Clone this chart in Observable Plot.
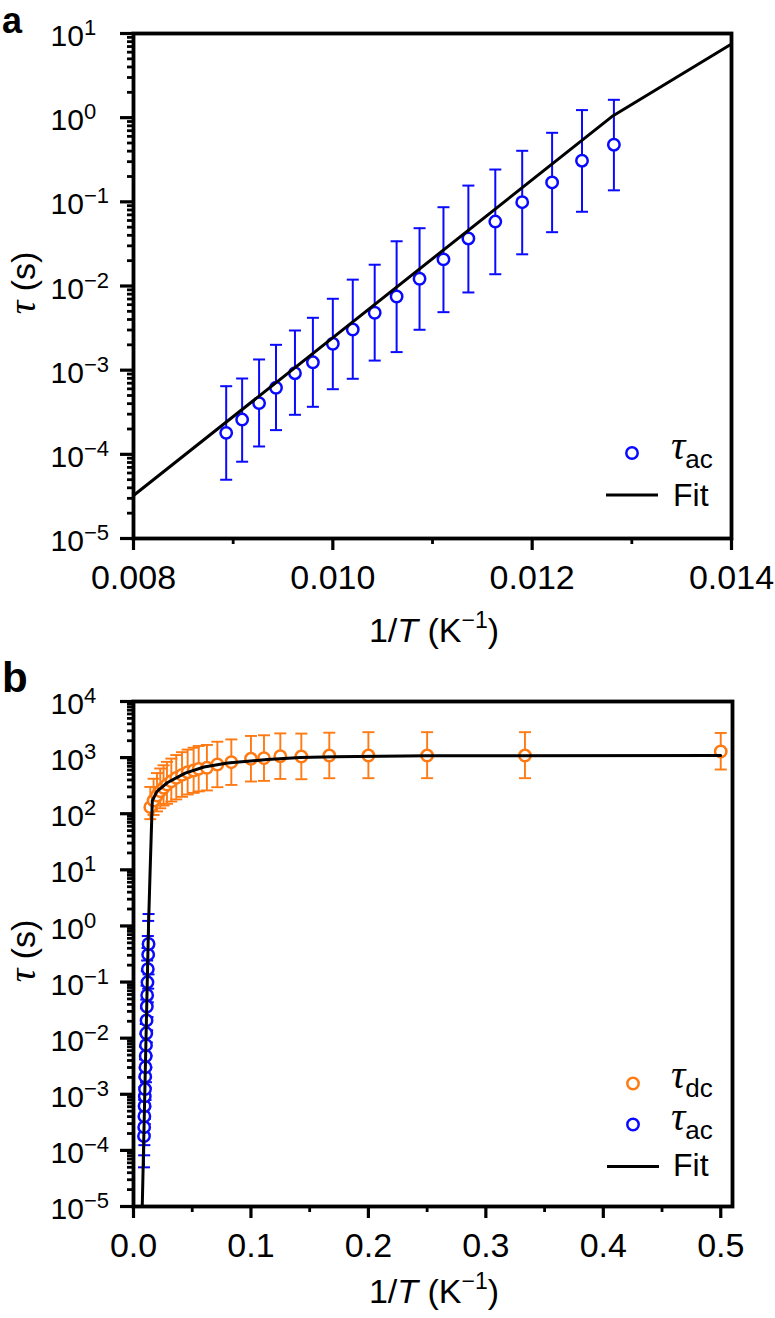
<!DOCTYPE html>
<html><head><meta charset="utf-8">
<script src="https://cdn.jsdelivr.net/npm/d3@7"></script>
<script src="https://cdn.jsdelivr.net/npm/@observablehq/plot@0.6"></script>
<style>
body{margin:0;background:#fff;}
#wrap{position:relative;width:775px;height:1318px;font-family:"Liberation Sans",Arial,sans-serif;}
#pa,#pb{position:absolute;left:0;}
#pa{top:0px}
#pb{top:655px}
#ov{position:absolute;left:0;top:0;pointer-events:none}
</style></head>
<body><div id="wrap"><div id="pa"></div><div id="pb"></div></div>
<script>
// ---- tau_ac (AC susceptibility) data: 1/T, tau, upper and lower error limits
const acX  = [0.00893, 0.00909, 0.00926, 0.00943, 0.00962, 0.00980, 0.01000, 0.01020, 0.01042, 0.01064, 0.01087, 0.01111, 0.01136, 0.01163, 0.01190, 0.01220, 0.01250, 0.01282];
const acY  = [1.80e-4, 2.59e-4, 4.06e-4, 6.18e-4, 9.2e-4, 1.24e-3, 2.06e-3, 3.04e-3, 4.81e-3, 7.5e-3, 1.22e-2, 2.07e-2, 3.67e-2, 5.83e-2, 9.9e-2, 0.170, 0.308, 0.477];
const acHi = [6.45e-4, 7.96e-4, 1.34e-3, 2.00e-3, 2.96e-3, 4.19e-3, 7.05e-3, 1.19e-2, 1.79e-2, 3.40e-2, 4.86e-2, 8.63e-2, 0.156, 0.242, 0.404, 0.661, 1.23, 1.63];
const acLo = [4.99e-5, 8.17e-5, 1.24e-4, 1.94e-4, 2.95e-4, 3.67e-4, 5.94e-4, 7.9e-4, 1.30e-3, 1.64e-3, 3.02e-3, 4.89e-3, 8.38e-3, 1.38e-2, 2.38e-2, 4.36e-2, 7.62e-2, 0.137];

// ---- tau_dc (DC relaxation) data
const dcX  = [0.0143, 0.0171, 0.0200, 0.0228, 0.0256, 0.0285, 0.0322, 0.0364, 0.0413, 0.0461, 0.0512, 0.0555, 0.0625, 0.0714, 0.0833, 0.1000, 0.1111, 0.1250, 0.1429, 0.1667, 0.2000, 0.2500, 0.3333, 0.5000];
const dcY  = [131, 172, 211, 252, 289, 331, 379, 436, 493, 549, 589, 631, 658, 754, 828, 953, 977, 1059, 1047, 1089, 1089, 1089, 1089, 1285];
const dcHi = [300, 420, 530, 640, 730, 840, 960, 1110, 1250, 1390, 1500, 1610, 1680, 1920, 2110, 2430, 2500, 2700, 2680, 2780, 2840, 2840, 2840, 2750];
const dcLo = [80, 95, 110, 125, 140, 150, 165, 180, 200, 220, 235, 250, 260, 297, 326, 375, 385, 417, 412, 429, 430, 430, 430, 614];

// ---- Fit curves
const fitAX = [0.0080, 0.0128, 0.0140];
const fitAY = [3.24e-5, 1.03, 7.5];
const fitBX = [0.00745, 0.0080, 0.0128, 0.0140, 0.0160, 0.0200, 0.0290, 0.0440, 0.0600, 0.0800, 0.1138, 0.1420, 0.1706, 0.2500, 0.5000];
const fitBY = [1.0e-5, 3.24e-5, 1.03, 7.5, 170, 250, 360, 530, 680, 800, 925, 1000, 1040, 1080, 1090];

// ---- Axis ticks
const xMajA = [0.008, 0.010, 0.012, 0.014];
const xMinA = [0.009, 0.011, 0.013];
const yMajA = [1e-5, 1e-4, 1e-3, 1e-2, 1e-1, 1, 10];
const xMajB = [0, 0.1, 0.2, 0.3, 0.4, 0.5];
const xMinB = [0.05, 0.15, 0.25, 0.35, 0.45];
const yMajB = [1e-5, 1e-4, 1e-3, 1e-2, 1e-1, 1, 10, 100, 1e3, 1e4];

const BLUE = "#0a0aff", ORANGE = "#ff7a12";

function minorLog(lo, hi){ const t=[]; for(let e=lo;e<hi;e++) for(let m=2;m<=9;m++) t.push(m*Math.pow(10,e)); return t; }
const ac = acX.map((x,i)=>({x, y:acY[i], hi:acHi[i], lo:acLo[i]}));
const dc = dcX.map((x,i)=>({x, y:dcY[i], hi:dcHi[i], lo:dcLo[i]}));
const fitA = fitAX.map((x,i)=>({x, y:fitAY[i]}));
const fitB = fitBX.map((x,i)=>({x, y:fitBY[i]}));

const cap = {draw(ctx, size){ const w = Math.sqrt(size/Math.PI); ctx.moveTo(-w,0); ctx.lineTo(w,0); }};
const supFmt = d => "10^" + Math.round(Math.log10(d));

function errMarks(data, color, sw){
  return [
    Plot.ruleX(data, {x:"x", y1:"lo", y2:"hi", stroke:color, strokeWidth:sw}),
    Plot.dot(data, {x:"x", y:"hi", symbol:cap, r:6, stroke:color, fill:"none", strokeWidth:sw}),
    Plot.dot(data, {x:"x", y:"lo", symbol:cap, r:6, stroke:color, fill:"none", strokeWidth:sw}),
    Plot.dot(data, {x:"x", y:"y", r:5.7, stroke:color, fill:"white", strokeWidth:2.5})
  ];
}

const style = {fontFamily:"Liberation Sans, Arial, sans-serif", background:"white", color:"black", overflow:"visible"};

const plotA = Plot.plot({
  width:775, height:655, marginLeft:133, marginRight:44, marginTop:33, marginBottom:117,
  style,
  x:{domain:[0.008, 0.014]},
  y:{type:"log", domain:[1e-5, 10]},
  marks:[
    Plot.axisY({ticks: minorLog(-5,1), tickSize:6, strokeWidth:2.8, fill:"none", label:null}),
    Plot.axisY({ticks: yMajA, tickSize:13, strokeWidth:3.2, tickPadding:70, textAnchor:"start", fontSize:30, tickFormat:supFmt, label:null}),
    Plot.axisX({ticks: xMinA, tickSize:6, strokeWidth:2.8, fill:"none", label:null}),
    Plot.axisX({ticks: xMajA, tickSize:12, strokeWidth:3.2, tickPadding:14, fontSize:34, tickFormat:d3.format(".3f"), label:null}),
    ...errMarks(ac, BLUE, 2),
    Plot.line(fitA, {x:"x", y:"y", stroke:"black", strokeWidth:3}),
    Plot.frame({strokeWidth:3.8})
  ]
});

const plotB = Plot.plot({
  width:775, height:663, marginLeft:133, marginRight:43, marginTop:46, marginBottom:112,
  style,
  x:{domain:[0, 0.51]},
  y:{type:"log", domain:[1e-5, 1e4]},
  marks:[
    Plot.axisY({ticks: minorLog(-5,4), tickSize:6, strokeWidth:2.8, fill:"none", label:null}),
    Plot.axisY({ticks: yMajB, tickSize:13, strokeWidth:3.2, tickPadding:70, textAnchor:"start", fontSize:30, tickFormat:supFmt, label:null}),
    Plot.axisX({ticks: xMinB, tickSize:6, strokeWidth:2.8, fill:"none", label:null}),
    Plot.axisX({ticks: xMajB, tickSize:12, strokeWidth:3.2, tickPadding:14, fontSize:34, tickFormat:d3.format(".1f"), label:null}),
    ...errMarks(dc, ORANGE, 1.9),
    ...errMarks(ac, BLUE, 2),
    Plot.line(fitB, {x:"x", y:"y", stroke:"black", strokeWidth:3, clip:true}),
    Plot.frame({strokeWidth:3.8})
  ]
});

function supTicks(svg){
  d3.select(svg).selectAll("text").each(function(){
    const m = /^10\^(-?\d+)$/.exec(this.textContent);
    if(!m) return;
    const e = +m[1];
    const s = d3.select(this); s.text(null);
    s.append("tspan").attr("dy", 3).text("10");
    s.append("tspan").attr("dy", -11).attr("font-size", 22).text((e<0?"\u2212":"")+Math.abs(e));
  });
}
supTicks(plotA); supTicks(plotB);
document.getElementById("pa").append(plotA);
document.getElementById("pb").append(plotB);

// ---- Overlay: panel letters, axis titles, legends
const ov = d3.select("#wrap").append("svg").attr("id","ov").attr("width",775).attr("height",1318)
  .attr("font-family","Liberation Sans, Arial, sans-serif").attr("fill","black");

ov.append("text").attr("x",2).attr("y",33).attr("font-size",36).attr("font-weight","bold").text("a");
ov.append("text").attr("x",2).attr("y",692).attr("font-size",42).attr("font-weight","bold").text("b");

function yTitle(cy){
  const t = ov.append("text").attr("transform",`translate(35,${cy}) rotate(-90)`).attr("text-anchor","middle").attr("font-size",34);
  t.append("tspan").attr("font-family","Liberation Serif, serif").attr("font-style","italic").attr("font-size",38).text("\u03C4");
  t.append("tspan").text(" (s)");
}
function xTitle(y){
  const t = ov.append("text").attr("x",434).attr("y",y).attr("text-anchor","middle").attr("font-size",34);
  t.append("tspan").text("1/");
  t.append("tspan").attr("font-style","italic").text("T");
  t.append("tspan").text(" (K");
  t.append("tspan").attr("font-size",23).attr("dy",-14).text("\u22121");
  t.append("tspan").attr("dy",14).text(")");
}
yTitle(283); yTitle(951);
xTitle(642); xTitle(1303);

function legDot(cx, cy, color){
  ov.append("circle").attr("cx",cx).attr("cy",cy).attr("r",5.7).attr("fill","white").attr("stroke",color).attr("stroke-width",2.5);
}
function legTau(x, y, sub){
  const t = ov.append("text").attr("x",x).attr("y",y);
  t.append("tspan").attr("font-family","Liberation Serif, serif").attr("font-style","italic").attr("font-size",40).text("\u03C4");
  t.append("tspan").attr("font-size",26).attr("dy",9).text(sub);
}
function legFit(x1, x2, y, ty){
  ov.append("line").attr("x1",x1).attr("x2",x2).attr("y1",y).attr("y2",y).attr("stroke","black").attr("stroke-width",3);
  ov.append("text").attr("x",673).attr("y",ty).attr("font-size",32).text("Fit");
}
// panel a legend
legDot(632, 453, BLUE); legTau(671, 459, "ac");
legFit(606, 658, 495, 506);
// panel b legend
legDot(633, 1083.5, ORANGE); legTau(671, 1088, "dc");
legDot(633, 1124.5, BLUE); legTau(671, 1130, "ac");
legFit(607, 659, 1166.5, 1176);
</script></body></html>
